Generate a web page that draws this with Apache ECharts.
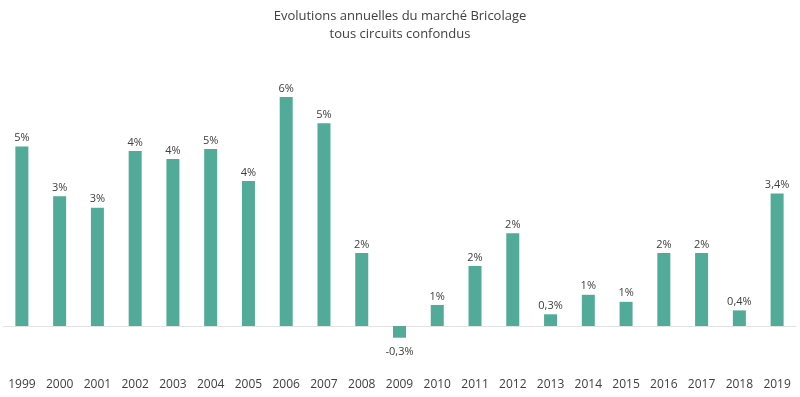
<!doctype html>
<html>
<head>
    <meta charset="utf-8">
    <title>Evolutions annuelles du marché Bricolage</title>
    <script src="https://cdn.jsdelivr.net/npm/echarts@6/dist/echarts.min.js"></script>
</head>
<style>
    html, body { margin: 0; padding: 0; background: #fff; }
    #chart { width: 800px; height: 397px; }
</style>
<body>
<div id="chart"></div>
<script>
  // years and annual change (%)
  var years = ['1999', '2000', '2001', '2002', '2003', '2004', '2005', '2006', '2007', '2008',
    '2009', '2010', '2011', '2012', '2013', '2014', '2015', '2016', '2017', '2018', '2019'];
  var values = [4.6, 3.33, 3.03, 4.49, 4.28, 4.54, 3.72, 5.87, 5.2, 1.87,
    -0.3, 0.54, 1.54, 2.38, 0.3, 0.8, 0.62, 1.87, 1.87, 0.4, 3.4];
  var labels = ['5%', '3%', '3%', '4%', '4%', '5%', '4%', '6%', '5%', '2%',
    '-0,3%', '1%', '2%', '2%', '0,3%', '1%', '1%', '2%', '2%', '0,4%', '3,4%'];

  var font = '"Open Sans", "Liberation Sans", sans-serif';
  var myChart = echarts.init(document.getElementById('chart'));

  // negative bar gets its label a bit further below
  var barData = values.map(function (v) {
    return v < 0 ? { value: v, label: { distance: 9 } } : v;
  });

  myChart.setOption({
    animation: false,
    title: {
      text: 'Evolutions annuelles du marché Bricolage\ntous circuits confondus',
      left: 'center',
      top: 2,
      textStyle: {
        fontFamily: font,
        fontSize: 13,
        fontWeight: 'normal',
        color: '#404040',
        lineHeight: 18
      }
    },
    grid: { left: 3, right: 4, top: 92, bottom: 32, outerBoundsMode: 'none', containLabel: false },
    xAxis: {
      type: 'category',
      data: years,
      axisLine: { onZero: true, lineStyle: { color: '#e3e3e3', width: 1 } },
      axisTick: { show: false },
      axisLabel: {
        margin: 14,
        color: '#404040',
        fontFamily: font,
        fontSize: 12
      }
    },
    yAxis: {
      type: 'value',
      min: -1,
      max: 6,
      show: false,
      splitLine: { show: false }
    },
    series: [{
      type: 'bar',
      data: barData,
      barWidth: 13,
      itemStyle: { color: '#52ab98' },
      label: {
        show: true,
        position: 'outside',
        distance: 3,
        color: '#404040',
        fontFamily: font,
        fontSize: 11,
        formatter: function (p) { return labels[p.dataIndex]; }
      }
    }]
  });
</script>
</body>
</html>
